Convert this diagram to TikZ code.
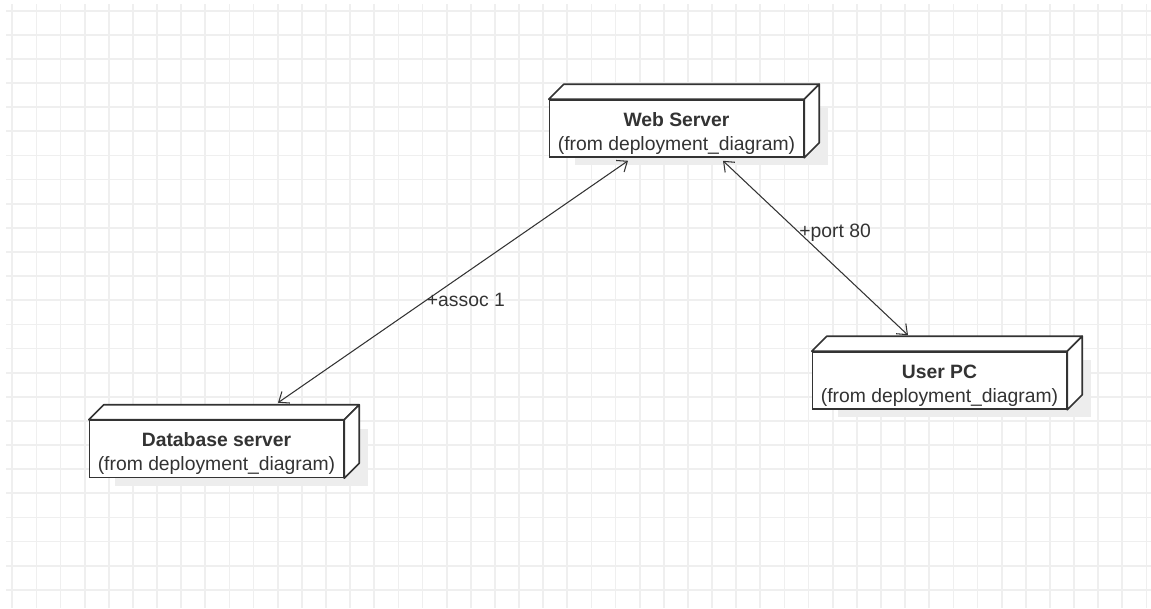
\documentclass[tikz,border=0pt]{standalone}
\usepackage{fontspec}
\setmainfont{Liberation Sans}
\usetikzlibrary{
  arrows.meta,
  calc,
  positioning,
  shadows
}
\definecolor{gridgray}{HTML}{EFEFEF}
\definecolor{inkgray}{HTML}{333333}
\tikzset{>={Straight Barb[length=5pt,width=8pt]}}
\tikzset{
  gridline/.style={draw=gridgray, line width=1pt},
  devnode/.style={draw=inkgray, fill=white, line width=0.9pt,
    minimum width=5.08cm, minimum height=1.14cm, inner ysep=0pt,
    align=center, text=inkgray,
    font=\fontsize{11pt}{13.7pt}\selectfont,
    drop shadow={shadow xshift=0.5cm, shadow yshift=-0.16cm,
      fill=black!7, opacity=1}},
  devface/.style={draw=inkgray, fill=white, line width=0.9pt,
    line join=round},
  assoc/.style={<->, draw=inkgray, line width=0.6pt},
  assoclabel/.style={anchor=west, inner sep=0pt, text=inkgray,
    font=\fontsize{11pt}{13pt}\selectfont},
}
% title line of a node, pushed down a little
\newcommand\nodetitle[1]{\rule{0pt}{13.5pt}\textbf{#1}}
% top and side faces of a 3d node box
\newcommand\nodedepth[1]{%
  \filldraw[devface] (#1.north west) -- ++(15,-15)
    -- ($(#1.north east)+(15,-15)$) -- (#1.north east) -- cycle;
  \filldraw[devface] (#1.north east) -- ++(15,-15)
    -- ($(#1.south east)+(15,-15)$) -- (#1.south east) -- cycle;
}
\begin{document}
\begin{tikzpicture}[x=0.02cm, y=-0.02cm]
  \useasboundingbox (0,0) rectangle (1151,608);
  % background grid
  \foreach \k in {0,...,47}
    \draw[gridline] ({12.3+24.13*\k},4) -- ({12.3+24.13*\k},608);
  \foreach \k in {0,...,24}
    \draw[gridline] (6,{10.7+24.13*\k}) -- (1151,{10.7+24.13*\k});
  % nodes
  \node[devnode] (web) at (676.5,128.5)
    {\nodetitle{Web Server}\\(from deployment\_diagram)};
  \node[devnode] (db) at (216.5,449)
    {\nodetitle{Database server}\\(from deployment\_diagram)};
  \node[devnode] (pc) at (939.5,380.5)
    {\nodetitle{User PC}\\(from deployment\_diagram)};
  \nodedepth{web}
  \nodedepth{db}
  \nodedepth{pc}
  % associations
  \draw[assoc] ($(web.south)+(-48.5,3)$) --
    node[assoclabel, pos=0.576] {+assoc 1} ($(db.north)+(61.5,-17)$);
  \draw[assoc] ($(web.south)+(46.5,3)$) --
    node[assoclabel, pos=0.41] {+port 80} ($(pc.north)+(-31.5,-16)$);
\end{tikzpicture}
\end{document}
